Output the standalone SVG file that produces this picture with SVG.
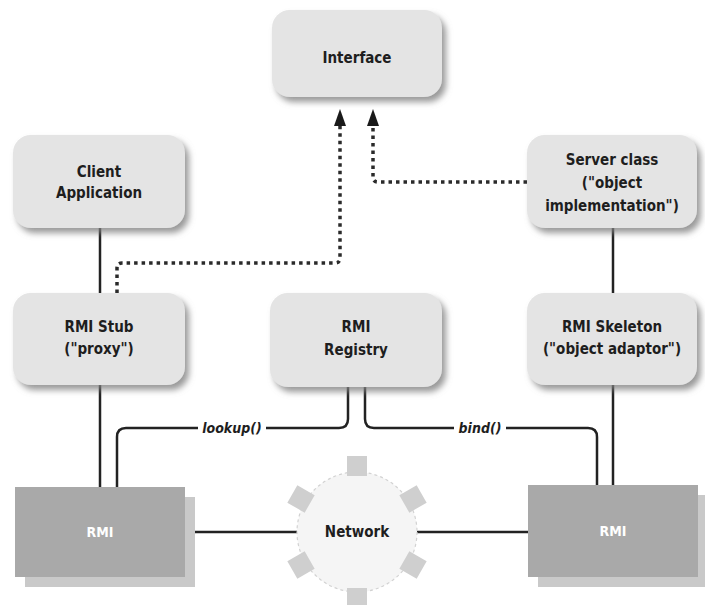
<svg xmlns="http://www.w3.org/2000/svg" width="705" height="605" viewBox="0 0 705 605">
<defs>
<filter id="sh" x="-20%" y="-20%" width="150%" height="150%">
<feDropShadow dx="4" dy="5" stdDeviation="3" flood-color="#808080" flood-opacity="0.8"/>
</filter>
<style>
.box{fill:#e4e4e4;filter:url(#sh)}
.rmi{fill:#a9a9a9}
.rmish{fill:#c9c9c9}
.t{font-family:"Liberation Sans Narrow","DejaVu Sans Condensed","Liberation Sans",sans-serif;font-weight:bold;font-size:15px;fill:#1e1e1e;text-anchor:middle}
.tw{font-family:"Liberation Sans Narrow","DejaVu Sans Condensed","Liberation Sans",sans-serif;font-weight:bold;font-size:14px;fill:#ffffff;text-anchor:middle}
.lbl{font-family:"Liberation Sans Narrow","DejaVu Sans Condensed","Liberation Sans",sans-serif;font-weight:bold;font-style:italic;font-size:14px;fill:#1e1e1e;text-anchor:middle}
.ln{fill:none;stroke:#222;stroke-width:2.5}
.dot{fill:none;stroke:#2a2a2a;stroke-width:3.5;stroke-dasharray:3.5,4}
.ah{fill:#1a1a1a}
.sq{fill:#cfcfcf}
</style>
</defs>
<rect width="705" height="605" fill="#ffffff"/>

<g id="connectors">
<path class="ln" d="M100,228 V293"/>
<path class="ln" d="M100,385 V487"/>
<path class="ln" d="M613,228 V293"/>
<path class="ln" d="M613,385 V485"/>
<path class="ln" d="M117,487 V437 Q117,428 126,428 H198"/>
<path class="ln" d="M266,428 H339 Q348,428 348,419 V387"/>
<path class="ln" d="M365,387 V419 Q365,428 374,428 H454"/>
<path class="ln" d="M506,428 H588 Q597,428 597,437 V485"/>
<path class="ln" d="M185,532 H297"/>
<path class="ln" d="M417,532 H528"/>
<path class="dot" d="M117,293 V268 Q117,263 122,263 H335 Q340,263 340,258 V126"/>
<path class="dot" d="M527,182 H378 Q373,182 373,177 V126"/>
<polygon class="ah" points="340,109 346,126 334,126"/>
<polygon class="ah" points="373,109 379,126 367,126"/>
<text class="lbl" x="232" y="433">lookup()</text>
<text class="lbl" x="480" y="433">bind()</text>
</g>

<g id="interface">
<rect class="box" x="272" y="10" width="170" height="87" rx="18"/>
<text class="t" x="357" y="63">Interface</text>
</g>

<g id="client">
<rect class="box" x="13" y="135" width="172" height="93" rx="18"/>
<text class="t" x="99" y="177">Client</text>
<text class="t" x="99" y="198">Application</text>
</g>

<g id="server">
<rect class="box" x="527" y="135" width="170" height="93" rx="18"/>
<text class="t" x="612" y="165">Server class</text>
<text class="t" x="612" y="188">("object</text>
<text class="t" x="612" y="211">implementation")</text>
</g>

<g id="stub">
<rect class="box" x="13" y="293" width="172" height="92" rx="18"/>
<text class="t" x="99" y="332">RMI Stub</text>
<text class="t" x="99" y="354">("proxy")</text>
</g>

<g id="registry">
<rect class="box" x="270" y="293" width="172" height="94" rx="18"/>
<text class="t" x="356" y="332">RMI</text>
<text class="t" x="356" y="355">Registry</text>
</g>

<g id="skeleton">
<rect class="box" x="527" y="293" width="170" height="92" rx="18"/>
<text class="t" x="612" y="332">RMI Skeleton</text>
<text class="t" x="612" y="354">("object adaptor")</text>
</g>

<g id="rmi-left">
<rect class="rmish" x="25" y="497" width="170" height="90"/>
<rect class="rmi" x="15" y="487" width="170" height="90"/>
<text class="tw" x="100" y="537">RMI</text>
</g>

<g id="rmi-right">
<rect class="rmish" x="538" y="495" width="167" height="92"/>
<rect class="rmi" x="528" y="485" width="170" height="92"/>
<text class="tw" x="613" y="536">RMI</text>
</g>

<g id="network">
<circle cx="357" cy="532" r="60" fill="#f5f5f5" stroke="#d2d2d2" stroke-width="1.2" stroke-dasharray="3,3"/>
<rect class="sq" x="347" y="456" width="20" height="20"/>
<rect class="sq" x="347" y="588" width="20" height="20"/>
<rect class="sq" x="-10" y="-10" width="20" height="20" transform="translate(301,499) rotate(30)"/>
<rect class="sq" x="-10" y="-10" width="20" height="20" transform="translate(413,499) rotate(-30)"/>
<rect class="sq" x="-10" y="-10" width="20" height="20" transform="translate(301,565) rotate(-30)"/>
<rect class="sq" x="-10" y="-10" width="20" height="20" transform="translate(413,565) rotate(30)"/>
<text class="t" x="357" y="537">Network</text>
</g>
</svg>
